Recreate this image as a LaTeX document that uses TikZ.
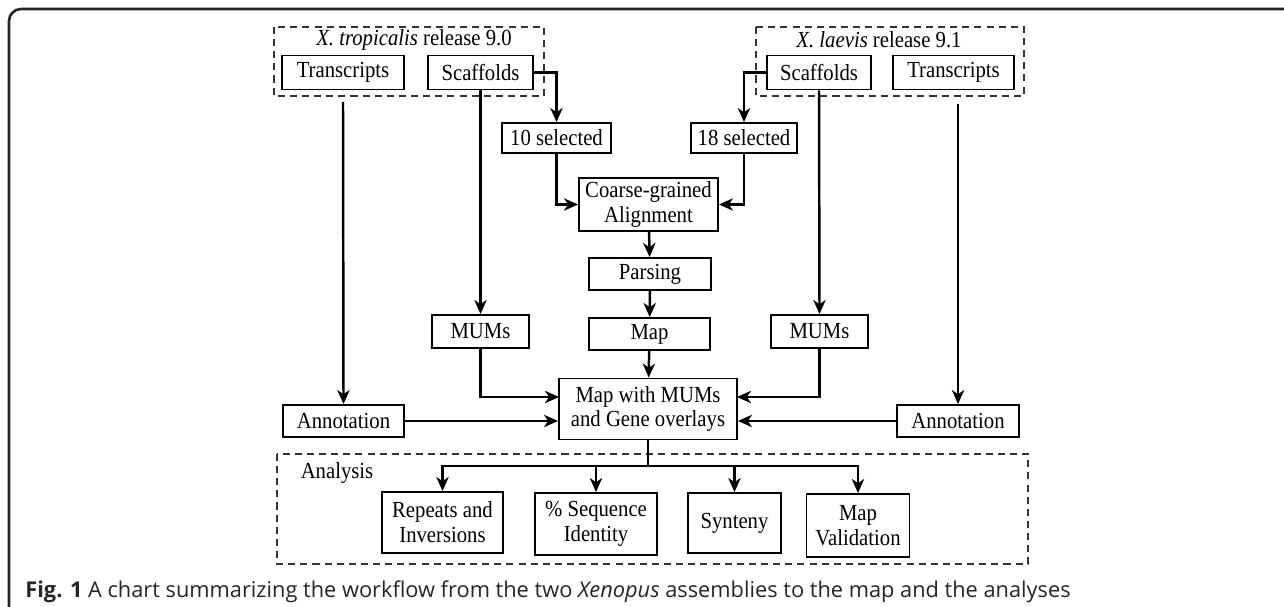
\documentclass[tikz,border=0pt]{standalone}
\usepackage{fontspec}
\setmainfont{Liberation Serif}[FakeStretch=0.9]
\newfontfamily\capfont{Open Sans}
\usetikzlibrary{arrows.meta}
\begin{document}
\begin{tikzpicture}[x=0.02cm,y=-0.02cm,
  every node/.style={font=\fontsize{13.1}{14.2}\selectfont},
  bx/.style 2 args={draw, line width=1.05pt, inner sep=0pt, align=center,
    minimum width=#1*0.02cm, minimum height=#2*0.02cm},
  grp/.style={draw, line width=1pt, dash pattern=on 4pt off 2.9pt, black!80},
  arr/.style={line width=1.4pt, -{Stealth[length=8pt,width=7pt,inset=2.4pt]}},
  ln/.style={line width=1.4pt}]
\useasboundingbox (0,0) rectangle (1284,607);
\fill[white] (0,0) rectangle (1284,607);
% outer frame
\draw[line width=1.5pt, black!85, rounded corners=0.24cm] (1284,9) -- (9,9) -- (9,607);

% group boxes
\draw[grp] (274,27) rectangle (544,96);
\draw[grp] (756,27) rectangle (1024,96);
\draw[grp] (277,454) rectangle (1028,564);

\node (tropTitle) at (414,40) {\textit{X. tropicalis} release 9.0};
\node (laevTitle) at (879,40) {\textit{X. laevis} release 9.1};
\node (anaTitle) at (337,473) {Analysis};

\node[bx={122}{34}] (tropT) at (343,72.5) {Transcripts};
\node[bx={105}{34}] (tropS) at (480.5,72.5) {Scaffolds};
\node[bx={104}{34}] (laevS) at (819,72.5) {Scaffolds};
\node[bx={121}{34}] (laevT) at (953.5,72.5) {Transcripts};

\node[bx={109}{30}] (sel10) at (556.5,138) {10 selected};
\node[bx={106}{30}] (sel18) at (744,138) {18 selected};
\node[bx={139}{53}] (coarse) at (648.5,204.5) {Coarse-grained\\Alignment};
\node[bx={122}{32}] (parsing) at (650,274) {Parsing};
\node[bx={121}{32}] (map) at (649.5,334) {Map};
\node[bx={97}{33}] (mumsL) at (480.5,331.5) {MUMs};
\node[bx={97}{33}] (mumsR) at (819.5,331.5) {MUMs};
\node[bx={178}{61}] (mapmums) at (648,409) {Map with MUMs\\and Gene overlays};
\node[bx={121}{32}] (annL) at (343.5,421) {Annotation};
\node[bx={122}{32}] (annR) at (958,421) {Annotation};

\node[bx={121}{61}] (rep) at (442.5,522.5) {Repeats and\\Inversions};
\node[bx={122}{62}] (seq) at (596,524) {\% Sequence\\Identity};
\node[bx={93}{60}] (syn) at (734.5,523) {Synteny};
\node[bx={103}{63}] (val) at (858,525.5) {Map\\Validation};

% coordinates
\coordinate (tTs) at (343,102);
\coordinate (lTs) at (958,104);
\coordinate (inL) at (559,397);
\coordinate (inR) at (737,397);
\coordinate (br) at (648,466);

% connectors
\draw[arr] (tropS.east) -| (sel10.north);
\draw[arr] (laevS.west) -| (sel18.north);
\draw[arr] (sel10.south) |- (coarse.west);
\draw[arr] (sel18.south) |- (coarse.east);
\draw[arr] (coarse) -- (parsing);
\draw[arr] (parsing) -- (map);
\draw[arr] (map) -- (mapmums);
\draw[arr] (tropS.south) -- (mumsL.north);
\draw[arr] (laevS.south) -- (mumsR.north);
\draw[arr] (tTs) -- (annL.north);
\draw[arr] (lTs) -- (annR.north);
\draw[arr] (mumsL.south) |- (inL);
\draw[arr] (mumsR.south) |- (inR);
\draw[arr] (annL.east) -- (annL.east -| mapmums.west);
\draw[arr] (annR.west) -- (annR.west -| mapmums.east);
\draw[ln] (mapmums.south) -- (br);
\draw[arr] (br) -| (rep.north);
\draw[arr] (br) -| (seq.north);
\draw[arr] (br) -| (syn.north);
\draw[arr] (br) -| (val.north);

% caption
\node[anchor=base west, inner sep=0pt, font=\capfont\fontsize{12.4}{14}\selectfont, text=black!85] (cap) at (25,597)
  {\textbf{Fig. 1} A chart summarizing the workflow from the two \textit{Xenopus} assemblies to the map and the analyses};
\end{tikzpicture}
\end{document}
